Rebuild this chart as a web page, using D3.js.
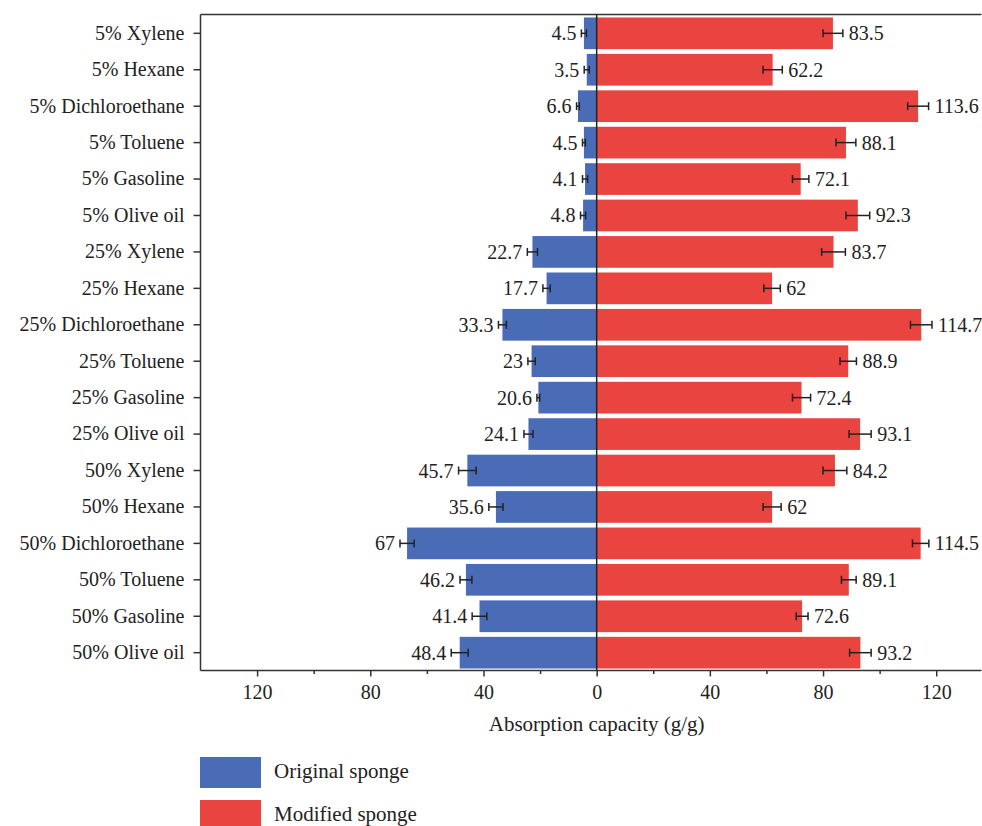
<!DOCTYPE html>
<html>
<head>
<meta charset="utf-8">
<script src="https://cdn.jsdelivr.net/npm/d3@7"></script>
<style>
  html, body { margin: 0; padding: 0; background: #fff; }
  svg { display: block; }
  text { font-family: "Liberation Serif", "Times New Roman", serif; fill: #222; }
</style>
</head>
<body>
<svg id="chart" width="982" height="826"></svg>
<script>
// Absorption capacity of original vs. modified sponges, by concentration and liquid
const categories = [
  "5% Xylene", "5% Hexane", "5% Dichloroethane", "5% Toluene", "5% Gasoline", "5% Olive oil",
  "25% Xylene", "25% Hexane", "25% Dichloroethane", "25% Toluene", "25% Gasoline", "25% Olive oil",
  "50% Xylene", "50% Hexane", "50% Dichloroethane", "50% Toluene", "50% Gasoline", "50% Olive oil"
];
const originalValues = [4.5, 3.5, 6.6, 4.5, 4.1, 4.8, 22.7, 17.7, 33.3, 23, 20.6, 24.1, 45.7, 35.6, 67, 46.2, 41.4, 48.4];
const originalErrors = [0.9, 0.9, 0.5, 0.5, 0.9, 0.9, 1.8, 1.3, 1.4, 1.3, 0.5, 1.6, 3.1, 2.5, 2.5, 2.1, 2.6, 3.0];
const modifiedValues = [83.5, 62.2, 113.6, 88.1, 72.1, 92.3, 83.7, 62, 114.7, 88.9, 72.4, 93.1, 84.2, 62, 114.5, 89.1, 72.6, 93.2];
const modifiedErrors = [3.5, 3.4, 3.7, 3.5, 2.9, 4.2, 4.2, 2.9, 3.8, 2.9, 3.2, 3.9, 4.2, 3.2, 2.9, 2.6, 2.1, 3.8];
const majorTicks = [-120, -80, -40, 0, 40, 80, 120];
const minorTicks = [-100, -60, -20, 20, 60, 100];
const seriesNames = ["Original sponge", "Modified sponge"];
const seriesColors = ["#4A6CB7", "#E9443F"];

const svg = d3.select("#chart");
const plot = { left: 200.5, right: 981.5, top: 14.5, bottom: 670.5 };

const x = d3.scaleLinear().domain([-140, 136]).range([plot.left, plot.right]);
const y = d3.scaleBand().domain(categories).range([15.1, 670.9])
  .paddingInner(0.13).paddingOuter(0.065);

const axisColor = "#333";
const fontSize = 20;

// bars
const gBars = svg.append("g");
gBars.selectAll("rect.orig").data(categories).join("rect")
  .attr("class", "orig")
  .attr("x", (d, i) => x(-originalValues[i]))
  .attr("y", d => y(d))
  .attr("width", (d, i) => x(0) - x(-originalValues[i]))
  .attr("height", y.bandwidth())
  .attr("fill", seriesColors[0]);
gBars.selectAll("rect.mod").data(categories).join("rect")
  .attr("class", "mod")
  .attr("x", x(0))
  .attr("y", d => y(d))
  .attr("width", (d, i) => x(modifiedValues[i]) - x(0))
  .attr("height", y.bandwidth())
  .attr("fill", seriesColors[1]);

// error bars
function errorBars(values, errors, sign) {
  const g = svg.append("g").attr("stroke", "#222").attr("stroke-width", 1.5).attr("fill", "none");
  categories.forEach((c, i) => {
    const cy = y(c) + y.bandwidth() / 2;
    const x1 = x(sign * (values[i] - errors[i]));
    const x2 = x(sign * (values[i] + errors[i]));
    g.append("line").attr("x1", x1).attr("x2", x2).attr("y1", cy).attr("y2", cy);
    [x1, x2].forEach(xx => g.append("line").attr("x1", xx).attr("x2", xx)
      .attr("y1", cy - 4).attr("y2", cy + 4));
  });
}
errorBars(originalValues, originalErrors, -1);
errorBars(modifiedValues, modifiedErrors, 1);

// value labels
svg.append("g").selectAll("text").data(categories).join("text")
  .attr("x", (d, i) => x(-(originalValues[i] + originalErrors[i])) - 5)
  .attr("y", d => y(d) + y.bandwidth() / 2)
  .attr("dy", "0.35em")
  .attr("text-anchor", "end")
  .attr("font-size", fontSize)
  .text((d, i) => originalValues[i]);
svg.append("g").selectAll("text").data(categories).join("text")
  .attr("x", (d, i) => x(modifiedValues[i] + modifiedErrors[i]) + 6)
  .attr("y", d => y(d) + y.bandwidth() / 2)
  .attr("dy", "0.35em")
  .attr("text-anchor", "start")
  .attr("font-size", fontSize)
  .text((d, i) => modifiedValues[i]);

// zero line
svg.append("line")
  .attr("x1", x(0)).attr("x2", x(0))
  .attr("y1", plot.top).attr("y2", plot.bottom)
  .attr("stroke", "#222").attr("stroke-width", 1.5);

// top frame line
svg.append("line")
  .attr("x1", plot.left).attr("x2", plot.right)
  .attr("y1", plot.top).attr("y2", plot.top)
  .attr("stroke", axisColor).attr("stroke-width", 1.5);

// y axis
const yAxis = svg.append("g")
  .attr("transform", `translate(${plot.left},0)`)
  .call(d3.axisLeft(y).tickSize(7).tickPadding(9));
yAxis.select(".domain").remove();
yAxis.append("line").attr("x1", 0).attr("x2", 0).attr("y1", plot.top).attr("y2", plot.bottom)
  .attr("stroke", axisColor).attr("stroke-width", 1.5);
yAxis.selectAll(".tick line").attr("stroke", axisColor).attr("stroke-width", 1.5);
yAxis.selectAll(".tick text").attr("font-size", fontSize)
  .attr("font-family", '"Liberation Serif", serif').attr("fill", "#222");

// x axis: major ticks labelled with absolute values, minor ticks unlabeled
const xAxis = svg.append("g")
  .attr("transform", `translate(0,${plot.bottom})`)
  .call(d3.axisBottom(x).tickValues(majorTicks).tickSize(6).tickPadding(8)
    .tickFormat(d => Math.abs(d)));
xAxis.select(".domain").attr("stroke", axisColor).attr("stroke-width", 1.5)
  .attr("d", `M${plot.left},0H${plot.right}`);
xAxis.selectAll(".tick line").attr("stroke", axisColor).attr("stroke-width", 1.5);
xAxis.selectAll(".tick text").attr("font-size", fontSize)
  .attr("font-family", '"Liberation Serif", serif').attr("fill", "#222");
const xMinor = svg.append("g")
  .attr("transform", `translate(0,${plot.bottom})`)
  .call(d3.axisBottom(x).tickValues(minorTicks).tickSize(3.5).tickFormat(""));
xMinor.select(".domain").remove();
xMinor.selectAll(".tick line").attr("stroke", axisColor).attr("stroke-width", 1.5);

// axis title
svg.append("text")
  .attr("x", x(0)).attr("y", 731)
  .attr("text-anchor", "middle")
  .attr("font-size", 21)
  .text("Absorption capacity (g/g)");

// legend
const legend = svg.append("g");
seriesNames.forEach((name, i) => {
  const ly = 757 + i * 43;
  legend.append("rect").attr("x", 200).attr("y", ly).attr("width", 61).attr("height", 31)
    .attr("fill", seriesColors[i]);
  legend.append("text").attr("x", 274).attr("y", ly + 21)
    .attr("font-size", 21).text(name);
});
</script>
</body>
</html>
